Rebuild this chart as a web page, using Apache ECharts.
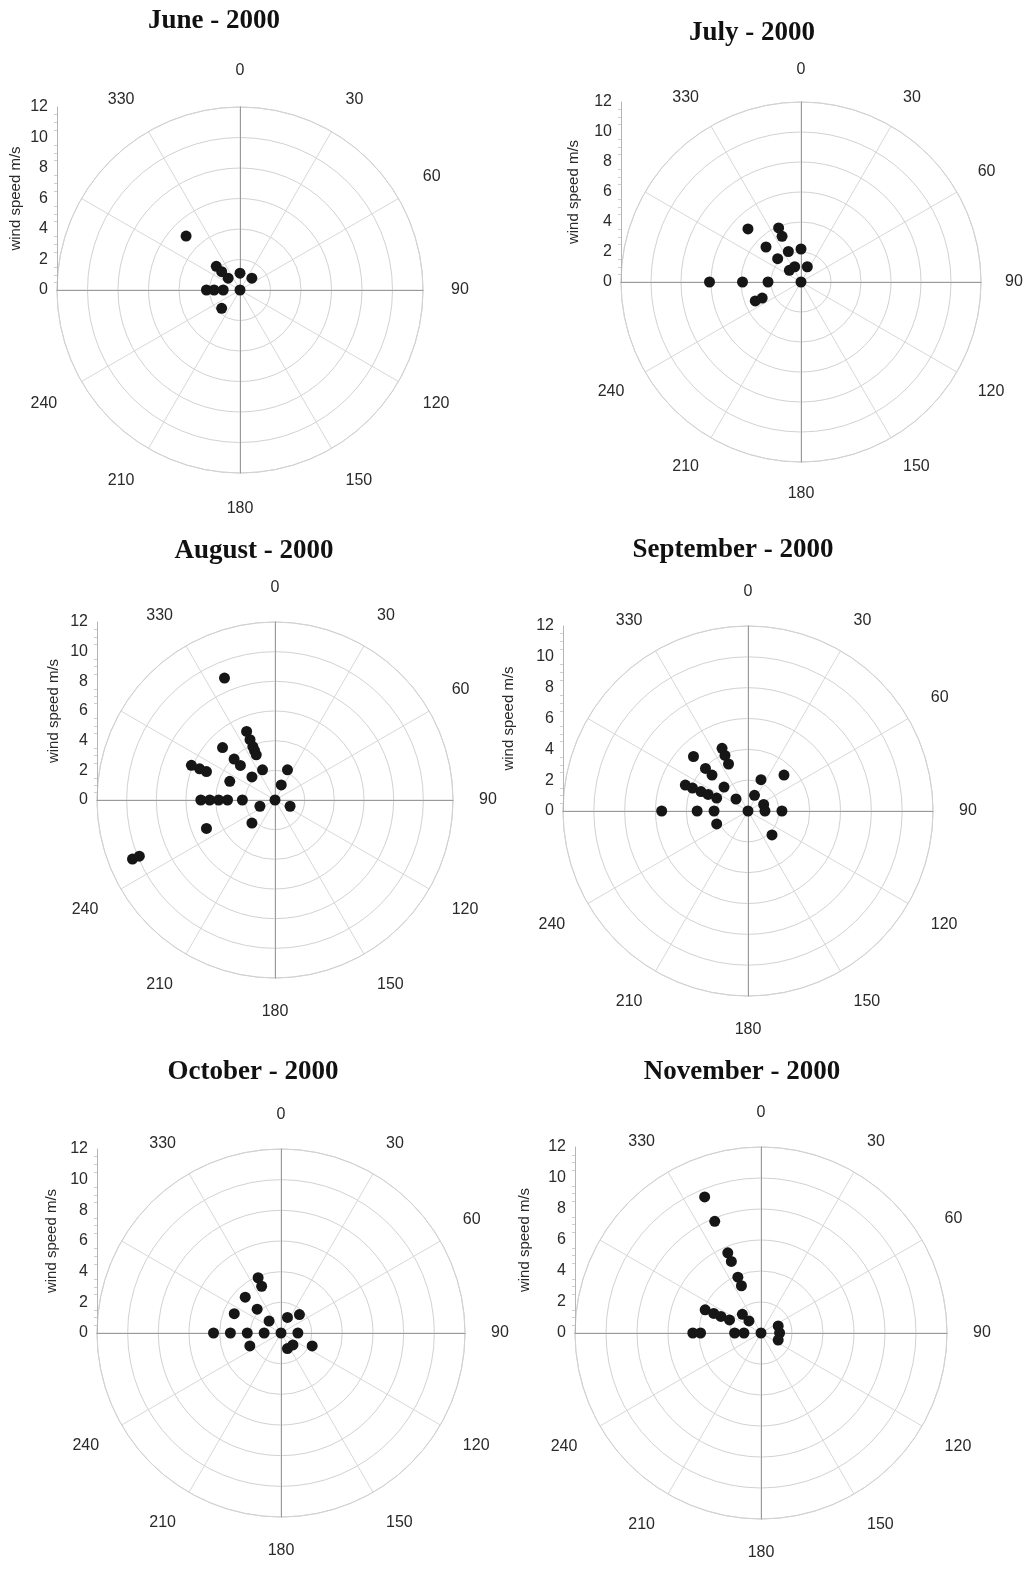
<!DOCTYPE html>
<html>
<head>
<meta charset="utf-8">
<script src="https://cdn.jsdelivr.net/npm/echarts@6/dist/echarts.min.js"></script>
<style>
html,body{margin:0;padding:0;background:#fff;}
#main{width:1028px;height:1571px;}
</style>
</head>
<body>
<div id="main"></div>
<script>
// Wind direction (degrees) and wind speed (m/s)
const juneDir   = [315, 315, 315, 315, 0, 45, 270, 270, 270, 0, 225];
const juneSpeed = [5.0, 2.2, 1.7, 1.1, 1.1, 1.1, 2.2, 1.7, 1.1, 0, 1.7];

const julyDir   = [315, 337.5, 337.5, 315, 337.5, 315, 0, 315, 337.5, 22.5, 270, 270, 270, 0, 247.5, 247.5];
const julySpeed = [5.0, 3.9, 3.3, 3.3, 2.2, 2.2, 2.2, 1.1, 1.1, 1.1, 6.1, 3.9, 2.2, 0, 3.3, 2.8];

const augDir   = [337.5, 337.5, 337.5, 337.5, 337.5, 337.5, 315, 315, 315, 337.5, 315, 22.5, 22.5,
                  292.5, 292.5, 292.5, 292.5, 270, 270, 270, 270, 270, 0, 247.5, 112.5, 225, 247.5, 247.5, 247.5];
const augSpeed = [8.9, 5.0, 4.4, 3.9, 3.6, 3.3, 5.0, 3.9, 3.3, 2.2, 2.2, 2.2, 1.1,
                  6.1, 5.5, 5.0, 3.3, 5.0, 4.4, 3.8, 3.2, 2.2, 0, 1.1, 1.1, 2.2, 5.0, 10.4, 9.9];

const sepDir   = [315, 337.5, 337.5, 337.5, 315, 315, 315, 315, 292.5, 292.5, 292.5, 292.5, 292.5,
                  22.5, 45, 22.5, 67.5, 90, 90, 270, 270, 0, 247.5, 135, 270];
const sepSpeed = [5.0, 4.4, 3.9, 3.3, 3.9, 3.3, 2.2, 1.1, 4.4, 3.9, 3.3, 2.8, 2.2,
                  2.2, 3.3, 1.1, 1.1, 1.1, 2.2, 3.3, 2.2, 0, 2.2, 2.2, 5.6];

const octDir   = [270, 270, 270, 270, 0, 90, 22.5, 45, 315, 315, 315, 337.5, 337.5, 292.5, 247.5, 157.5, 135, 112.5];
const octSpeed = [4.4, 3.3, 2.2, 1.1, 0, 1.1, 1.1, 1.7, 1.1, 2.2, 3.3, 3.9, 3.3, 3.3, 2.2, 1.1, 1.1, 2.2];

const novDir   = [337.5, 337.5, 337.5, 337.5, 337.5, 337.5, 315, 315, 292.5, 292.5, 292.5, 292.5,
                  270, 270, 270, 270, 0, 67.5, 90, 112.5];
const novSpeed = [9.5, 7.8, 5.6, 5.0, 3.9, 3.3, 1.7, 1.1, 3.9, 3.3, 2.8, 2.2,
                  4.4, 3.9, 1.7, 1.1, 0, 1.2, 1.2, 1.2];

const titles = ['June - 2000', 'July - 2000', 'August - 2000', 'September - 2000', 'October - 2000', 'November - 2000'];
const speedTicks = [0, 12, 2];      // min, max, step of wind speed axis
const dirTicks = [0, 360, 30];      // min, max, step of direction axis
const hiddenDirLabels = [270, 300, 360];
const yName = 'wind speed m/s';

const panels = [
  {dir: juneDir, speed: juneSpeed, cx: 240, cy: 290, r: 183, tx: 214, ty: 21, gap: 34, m: 28},
  {dir: julyDir, speed: julySpeed, cx: 801, cy: 282, r: 180, tx: 752, ty: 33, gap: 40, m: 24},
  {dir: augDir,  speed: augSpeed,  cx: 275, cy: 800, r: 178, tx: 254, ty: 551, gap: 36, m: 26},
  {dir: sepDir,  speed: sepSpeed,  cx: 748, cy: 811, r: 185, tx: 733, ty: 550, gap: 47, m: 26},
  {dir: octDir,  speed: octSpeed,  cx: 281, cy: 1333, r: 184, tx: 253, ty: 1072, gap: 38, m: 26},
  {dir: novDir,  speed: novSpeed,  cx: 761, cy: 1333, r: 186, tx: 742, ty: 1072, gap: 43, m: 26}
];

const sans = '"Liberation Sans", Arial, sans-serif';
const option = {
  backgroundColor: '#ffffff',
  animation: false,
  polar: [], angleAxis: [], radiusAxis: [], grid: [], xAxis: [], yAxis: [], series: [], graphic: []
};

panels.forEach((p, i) => {
  option.polar.push({center: [p.cx, p.cy], radius: p.r});
  option.angleAxis.push({
    polarIndex: i, type: 'value', min: dirTicks[0], max: dirTicks[1], interval: dirTicks[2],
    startAngle: 90, clockwise: true,
    axisLine: {show: true, lineStyle: {color: '#d2d2d2', width: 1}},
    axisTick: {show: false},
    axisLabel: {
      margin: p.m, color: '#2a2a2a', fontSize: 16, fontFamily: sans,
      formatter: v => hiddenDirLabels.indexOf(v) >= 0 ? '' : String(v)
    },
    splitLine: {show: true, lineStyle: {color: '#d8d8d8', width: 1}}
  });
  option.radiusAxis.push({
    polarIndex: i, type: 'value', min: speedTicks[0], max: speedTicks[1], interval: speedTicks[2],
    axisLine: {show: false}, axisTick: {show: false}, axisLabel: {show: false},
    splitLine: {show: true, lineStyle: {color: '#d2d2d2', width: 1}}
  });
  // cross lines grid
  option.grid.push({left: p.cx - p.r, top: p.cy - p.r, width: 2 * p.r, height: 2 * p.r});
  option.xAxis.push({
    gridIndex: 2 * i, type: 'value', min: -speedTicks[1], max: speedTicks[1],
    axisLine: {show: true, onZero: true, lineStyle: {color: '#9a9a9a', width: 1}},
    axisTick: {show: false}, axisLabel: {show: false}, splitLine: {show: false}
  });
  option.yAxis.push({
    gridIndex: 2 * i, type: 'value', min: -speedTicks[1], max: speedTicks[1],
    axisLine: {show: true, onZero: true, lineStyle: {color: '#9a9a9a', width: 1}},
    axisTick: {show: false}, axisLabel: {show: false}, splitLine: {show: false}
  });
  // wind speed axis grid
  option.grid.push({left: p.cx - p.r, top: p.cy - p.r, width: 10, height: p.r});
  option.xAxis.push({gridIndex: 2 * i + 1, type: 'value', show: false, min: 0, max: 1});
  option.yAxis.push({
    gridIndex: 2 * i + 1, type: 'value', min: speedTicks[0], max: speedTicks[1], interval: speedTicks[2],
    position: 'left',
    axisLine: {show: true, onZero: false, lineStyle: {color: '#b5b5b5', width: 1}},
    axisTick: {show: false},
    minorTick: {show: true, splitNumber: 4, length: 3, lineStyle: {color: '#cfcfcf'}},
    axisLabel: {color: '#2a2a2a', fontSize: 16, margin: 9, fontFamily: sans},
    splitLine: {show: false},
    name: yName, nameLocation: 'middle', nameGap: p.gap, nameRotate: 90,
    nameTextStyle: {color: '#2a2a2a', fontSize: 15, fontFamily: sans}
  });
  option.series.push({
    type: 'scatter', coordinateSystem: 'polar', polarIndex: i,
    symbol: 'circle', symbolSize: 11, z: 10,
    itemStyle: {color: '#161616', opacity: 1},
    data: p.dir.map((d, k) => [p.speed[k], d])
  });
  option.graphic.push({
    type: 'text', x: p.tx, y: p.ty, z: 20,
    style: {
      text: titles[i], font: 'bold 27px "Liberation Serif", "Times New Roman", serif',
      fill: '#111', textAlign: 'center', textVerticalAlign: 'middle', align: 'center', verticalAlign: 'middle'
    }
  });
});

const chart = echarts.init(document.getElementById('main'), null, {renderer: 'canvas'});
chart.setOption(option);
</script>
</body>
</html>
